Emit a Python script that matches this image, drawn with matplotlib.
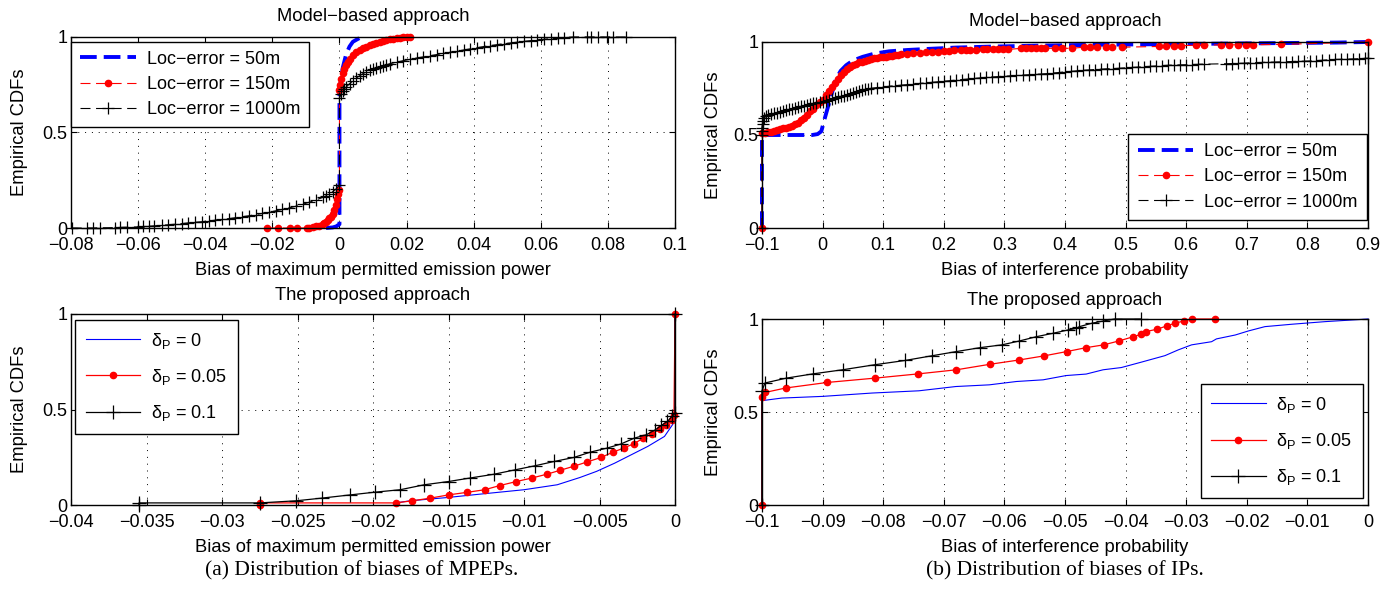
import numpy as np
import matplotlib
matplotlib.use("Agg")
import matplotlib.pyplot as plt
from matplotlib.ticker import FuncFormatter

plt.rcParams['font.family'] = ['Liberation Sans', 'DejaVu Sans']
plt.rcParams['mathtext.fontset'] = 'custom'
plt.rcParams['mathtext.rm'] = 'Liberation Sans'
plt.rcParams['mathtext.it'] = 'Liberation Sans:italic'

# ---------------- (a) top: model-based MPEP bias ----------------
mpep_50_x = [-0.004, -0.002, -0.001, 0.0, 0.0, 0.0005, 0.001, 0.002, 0.003, 0.004, 0.0055, 0.0066]
mpep_50_y = [0.0, 0.003, 0.008, 0.02, 0.72, 0.78, 0.84, 0.91, 0.95, 0.975, 0.99, 1.0]

mpep_150_x = [-0.0215, -0.0182, -0.0148, -0.0126, -0.0098, -0.009, -0.008, -0.007, -0.006, -0.005,
              -0.0045, -0.004, -0.0035, -0.003, -0.0025, -0.002, -0.0015, -0.001, -0.0006, -0.0003,
              0.0, 0.0, 0.0003, 0.0006, 0.001, 0.0015, 0.002, 0.0025, 0.003, 0.004,
              0.005, 0.006, 0.007, 0.008, 0.009, 0.010, 0.011, 0.012, 0.013, 0.014,
              0.015, 0.016, 0.017, 0.018, 0.019, 0.020, 0.021]
mpep_150_y = [0.0, 0.0, 0.0, 0.0, 0.0, 0.002, 0.004, 0.008, 0.013, 0.02,
              0.025, 0.032, 0.04, 0.05, 0.06, 0.075, 0.095, 0.12, 0.15, 0.18,
              0.2, 0.72, 0.75, 0.78, 0.81, 0.835, 0.855, 0.87, 0.885, 0.905,
              0.92, 0.93, 0.94, 0.95, 0.958, 0.965, 0.971, 0.976, 0.981, 0.985,
              0.989, 0.992, 0.995, 0.997, 0.999, 1.0, 1.0]

mpep_1000_x = [-0.0798, -0.0753, -0.0733, -0.0713, -0.0669, -0.0654, -0.0634, -0.0599, -0.0584, -0.0569,
               -0.0554, -0.053, -0.051, -0.049, -0.047, -0.045, -0.043, -0.041, -0.039, -0.037,
               -0.035, -0.033, -0.031, -0.029, -0.027, -0.025, -0.023, -0.021, -0.019, -0.017,
               -0.015, -0.013, -0.011, -0.009, -0.007, -0.005, -0.004, -0.003, -0.002, -0.001,
               0.0,
               0.0, 0.0005, 0.001, 0.0015, 0.002, 0.003, 0.004, 0.005, 0.006, 0.007,
               0.008, 0.009, 0.010, 0.011, 0.012, 0.013, 0.014, 0.015, 0.017, 0.019,
               0.021, 0.023, 0.025, 0.027, 0.029, 0.031, 0.033, 0.035, 0.037, 0.039,
               0.041, 0.043, 0.045, 0.047, 0.049, 0.051, 0.053, 0.055, 0.057, 0.059,
               0.061, 0.063, 0.065, 0.067, 0.0696, 0.0737, 0.0751, 0.0771, 0.0796, 0.0816,
               0.0853]
mpep_1000_y = [0.0, 0.0, 0.0, 0.001, 0.002, 0.003, 0.004, 0.006, 0.008, 0.009,
               0.011, 0.014, 0.017, 0.02, 0.023, 0.027, 0.03, 0.033, 0.037, 0.041,
               0.045, 0.049, 0.054, 0.059, 0.064, 0.07, 0.076, 0.083, 0.09, 0.097,
               0.105, 0.114, 0.124, 0.135, 0.147, 0.16, 0.168, 0.177, 0.19, 0.205,
               0.225,
               0.68, 0.7, 0.715, 0.727, 0.738, 0.755, 0.77, 0.785, 0.797, 0.808,
               0.818, 0.826, 0.833, 0.839, 0.845, 0.85, 0.855, 0.86, 0.868, 0.876,
               0.883, 0.89, 0.896, 0.902, 0.908, 0.914, 0.92, 0.926, 0.932, 0.938,
               0.944, 0.95, 0.955, 0.96, 0.965, 0.969, 0.973, 0.977, 0.981, 0.985,
               0.988, 0.991, 0.994, 0.997, 1.0, 1.0, 1.0, 1.0, 1.0, 1.0,
               1.0]

# ---------------- (b) top: model-based IP bias ----------------
ip_50_x = [-0.1, -0.1, -0.05, -0.017, -0.008, -0.002, 0.002, 0.008, 0.015, 0.022,
           0.03, 0.039, 0.05, 0.066, 0.085, 0.11, 0.14, 0.175, 0.22, 0.275,
           0.35, 0.45, 0.55, 0.65, 0.75, 0.85, 0.9]
ip_50_y = [0.0, 0.5, 0.5, 0.5, 0.505, 0.52, 0.57, 0.64, 0.72, 0.80,
           0.845, 0.875, 0.9, 0.92, 0.937, 0.95, 0.957, 0.963, 0.97, 0.975,
           0.98, 0.985, 0.988, 0.991, 0.994, 0.997, 1.0]

ip_150_x = [-0.1, -0.1, -0.095, -0.09, -0.085, -0.08, -0.075, -0.07, -0.065, -0.06,
            -0.055, -0.05, -0.045, -0.04, -0.035, -0.03, -0.025, -0.02, -0.015, -0.01,
            -0.005, 0.0, 0.005, 0.01, 0.015, 0.02, 0.025, 0.03, 0.035, 0.04,
            0.045, 0.05, 0.055, 0.06, 0.065, 0.07, 0.075, 0.08, 0.085, 0.09,
            0.095, 0.1, 0.105, 0.11, 0.115, 0.12, 0.125, 0.13, 0.14, 0.15,
            0.16, 0.17, 0.18, 0.19, 0.2, 0.208, 0.217, 0.228, 0.236, 0.244,
            0.253, 0.264, 0.272, 0.281, 0.289, 0.297, 0.306, 0.328, 0.336, 0.344,
            0.353, 0.361, 0.367, 0.383, 0.395, 0.411, 0.431, 0.442, 0.453, 0.467,
            0.478, 0.494, 0.555, 0.566, 0.58, 0.591, 0.616, 0.63, 0.657, 0.671,
            0.685, 0.699, 0.71, 0.757, 0.9]
ip_150_y = [0.0, 0.51, 0.512, 0.515, 0.517, 0.52, 0.525, 0.53, 0.535, 0.54,
            0.545, 0.55, 0.557, 0.565, 0.578, 0.593, 0.61, 0.627, 0.642, 0.66,
            0.675, 0.69, 0.715, 0.738, 0.76, 0.78, 0.8, 0.82, 0.84, 0.855,
            0.866, 0.875, 0.882, 0.89, 0.895, 0.9, 0.904, 0.908, 0.912, 0.915,
            0.918, 0.92, 0.922, 0.925, 0.927, 0.929, 0.931, 0.933, 0.936, 0.939,
            0.942, 0.944, 0.946, 0.948, 0.95, 0.952, 0.955, 0.957, 0.958, 0.958,
            0.958, 0.96, 0.96, 0.96, 0.96, 0.96, 0.96, 0.966, 0.966, 0.966,
            0.966, 0.966, 0.966, 0.966, 0.966, 0.966, 0.972, 0.972, 0.972, 0.972,
            0.972, 0.972, 0.976, 0.976, 0.98, 0.98, 0.983, 0.983, 0.985, 0.985,
            0.985, 0.985, 0.985, 0.987, 1.0]

ip_1000_x = [-0.1, -0.1, -0.1, -0.1, -0.099, -0.098, -0.096, -0.094, -0.09, -0.085,
             -0.08, -0.075, -0.07, -0.065, -0.06, -0.055, -0.05, -0.045, -0.04, -0.035,
             -0.03, -0.025, -0.02, -0.015, -0.01, -0.005, 0.0, 0.005, 0.01, 0.015,
             0.02, 0.025, 0.03, 0.035, 0.04, 0.045, 0.05, 0.055, 0.06, 0.065,
             0.07, 0.075, 0.08, 0.09, 0.1, 0.11, 0.12, 0.13, 0.14, 0.15,
             0.16, 0.17, 0.18, 0.19, 0.2, 0.21, 0.22, 0.23, 0.24, 0.25,
             0.26, 0.27, 0.28, 0.29, 0.3, 0.31, 0.32, 0.33, 0.34, 0.35,
             0.36, 0.37, 0.38, 0.39, 0.4, 0.41, 0.42, 0.43, 0.44, 0.45,
             0.46, 0.47, 0.48, 0.49, 0.5, 0.51, 0.52, 0.53, 0.54, 0.55,
             0.56, 0.57, 0.58, 0.59, 0.6, 0.61, 0.62, 0.63, 0.665, 0.675,
             0.685, 0.695, 0.705, 0.715, 0.725, 0.735, 0.745, 0.755, 0.765, 0.775,
             0.785, 0.795, 0.805, 0.815, 0.825, 0.835, 0.845, 0.855, 0.865, 0.875,
             0.885, 0.895, 0.9]
ip_1000_y = [0.0, 0.5, 0.52, 0.54, 0.56, 0.575, 0.59, 0.6, 0.607, 0.612,
             0.616, 0.62, 0.625, 0.63, 0.634, 0.638, 0.642, 0.646, 0.65, 0.654,
             0.658, 0.662, 0.666, 0.67, 0.673, 0.677, 0.68, 0.685, 0.69, 0.694,
             0.698, 0.702, 0.707, 0.712, 0.717, 0.722, 0.728, 0.733, 0.737, 0.741,
             0.745, 0.748, 0.751, 0.755, 0.758, 0.762, 0.765, 0.768, 0.771, 0.774,
             0.777, 0.78, 0.783, 0.786, 0.789, 0.792, 0.795, 0.798, 0.801, 0.804,
             0.807, 0.81, 0.812, 0.814, 0.816, 0.818, 0.82, 0.822, 0.824, 0.826,
             0.828, 0.83, 0.833, 0.836, 0.839, 0.842, 0.845, 0.848, 0.85, 0.852,
             0.854, 0.856, 0.857, 0.859, 0.861, 0.863, 0.865, 0.867, 0.869, 0.871,
             0.873, 0.875, 0.876, 0.877, 0.878, 0.879, 0.88, 0.881, 0.883, 0.884,
             0.885, 0.886, 0.888, 0.889, 0.89, 0.891, 0.892, 0.893, 0.894, 0.895,
             0.896, 0.897, 0.898, 0.9, 0.902, 0.904, 0.906, 0.907, 0.908, 0.909,
             0.91, 0.912, 0.913]

# ---------------- (a) bottom: proposed MPEP bias ----------------
pmpep_d0_x = [-0.0185, -0.01755, -0.0151, -0.0129, -0.01, -0.0078, -0.0063, -0.0052, -0.004, -0.0029,
              -0.0018, -0.0007, -0.00017, 0.0, 0.0]
pmpep_d0_y = [0.011, 0.022, 0.039, 0.057, 0.08, 0.106, 0.144, 0.176, 0.219, 0.263,
              0.307, 0.359, 0.42, 0.45, 1.0]

pmpep_d05_x = [-0.0275, -0.0275, -0.0185, -0.0174, -0.0162, -0.015, -0.0138, -0.0126, -0.0116, -0.0105,
               -0.0095, -0.0085, -0.0076, -0.0067, -0.0058, -0.0049, -0.0041, -0.0034, -0.0027, -0.0021,
               -0.0015, -0.001, -0.0006, -0.0002, -0.00007, 0.0]
pmpep_d05_y = [0.0, 0.011, 0.011, 0.022, 0.036, 0.053, 0.066, 0.08, 0.102, 0.123,
               0.141, 0.161, 0.182, 0.203, 0.226, 0.249, 0.277, 0.298, 0.322, 0.35,
               0.373, 0.397, 0.42, 0.446, 0.473, 1.0]

pmpep_d1_x = [-0.0355, -0.0355, -0.0275, -0.0251, -0.0234, -0.0215, -0.0199, -0.0182, -0.0166, -0.015,
              -0.0136, -0.012, -0.0106, -0.0093, -0.008, -0.0067, -0.0056, -0.0045, -0.0036, -0.0027,
              -0.0019, -0.0013, -0.0009, -0.0005, -0.0002, 0.0, 0.0]
pmpep_d1_y = [0.0, 0.011, 0.011, 0.022, 0.036, 0.053, 0.067, 0.08, 0.106, 0.123,
              0.141, 0.161, 0.184, 0.205, 0.228, 0.249, 0.277, 0.298, 0.319, 0.35,
              0.368, 0.394, 0.417, 0.438, 0.464, 0.48, 1.0]

# ---------------- (b) bottom: proposed IP bias ----------------
pip_d0_x = [-0.1, -0.1, -0.0967, -0.09, -0.0818, -0.0741, -0.068, -0.0625, -0.058, -0.0536,
            -0.0498, -0.0465, -0.0437, -0.0407, -0.0374, -0.0335, -0.0313, -0.0291, -0.0258, -0.025,
            -0.0219, -0.0197, -0.017, -0.0125, -0.007, 0.0]
pip_d0_y = [0.0, 0.561, 0.575, 0.584, 0.602, 0.614, 0.637, 0.646, 0.664, 0.673,
            0.696, 0.704, 0.727, 0.739, 0.768, 0.803, 0.834, 0.861, 0.878, 0.893,
            0.914, 0.936, 0.959, 0.972, 0.986, 1.0]

pip_d05_x = [-0.1, -0.1, -0.0995, -0.0961, -0.0892, -0.0814, -0.0742, -0.0679, -0.0623, -0.0575,
             -0.0534, -0.0497, -0.0465, -0.0436, -0.0411, -0.0387, -0.0374, -0.0367, -0.0348, -0.0331,
             -0.0319, -0.0304, -0.0291, -0.0253]
pip_d05_y = [0.0, 0.58, 0.605, 0.629, 0.659, 0.682, 0.705, 0.727, 0.757, 0.78,
             0.802, 0.825, 0.846, 0.861, 0.882, 0.905, 0.918, 0.932, 0.945, 0.964,
             0.977, 0.989, 1.0, 1.0]

pip_d1_x = [-0.1, -0.1, -0.0995, -0.096, -0.0916, -0.0867, -0.0814, -0.0764, -0.072, -0.0679,
            -0.064, -0.0604, -0.0575, -0.0547, -0.052, -0.0495, -0.0481, -0.0476, -0.0456, -0.0437,
            -0.0418, -0.0374]
pip_d1_y = [0.0, 0.614, 0.656, 0.682, 0.705, 0.727, 0.754, 0.777, 0.802, 0.825,
            0.846, 0.861, 0.882, 0.905, 0.923, 0.941, 0.95, 0.959, 0.977, 0.989,
            1.0, 1.0]

model_labels = ['Loc\u2212error = 50m', 'Loc\u2212error = 150m', 'Loc\u2212error = 1000m']
delta_labels = [r'δ$_\mathrm{P}$ = 0', r'δ$_\mathrm{P}$ = 0.05', r'δ$_\mathrm{P}$ = 0.1']


def matlab_fmt(v, pos):
    if abs(v) < 1e-12:
        return '0'
    return f'{v:g}'.replace('-', '\u2212')


def style_axes(ax, xlim, xticks, title, xlabel, title_pad, ylabel_pad):
    ax.set_xlim(*xlim)
    ax.set_ylim(0, 1)
    ax.set_xticks(xticks)
    ax.set_yticks([0, 0.5, 1])
    ax.xaxis.set_major_formatter(FuncFormatter(matlab_fmt))
    ax.yaxis.set_major_formatter(FuncFormatter(matlab_fmt))
    ax.tick_params(direction='in', length=4, width=0.8, top=True, right=True,
                   labelsize=13, colors='black')
    ax.tick_params(axis='x', pad=6.5)
    ax.tick_params(axis='y', pad=2.5)
    ax.grid(True, color='black', linestyle=(0, (1, 6)), linewidth=0.7)
    for sp in ax.spines.values():
        sp.set_linewidth(1.0)
    ax.set_title(title, fontsize=13.2, pad=title_pad)
    ax.set_xlabel(xlabel, fontsize=13.2, labelpad=5.5)
    ax.set_ylabel('Empirical CDFs', fontsize=13.2, labelpad=ylabel_pad)


fig = plt.figure(figsize=(13.95, 5.89), dpi=100)
ax1 = fig.add_axes([0.0509, 0.6129, 0.4330, 0.3243])
ax2 = fig.add_axes([0.5462, 0.6129, 0.4344, 0.3158])
ax3 = fig.add_axes([0.0509, 0.1426, 0.4330, 0.3243])
ax4 = fig.add_axes([0.5462, 0.1426, 0.4344, 0.3158])

blue_kw = dict(color='#0000ff', lw=2.8, dashes=(4.3, 1.8), clip_on=False)
red_kw = dict(color='#ff0000', lw=0.8, dashes=(9, 5), marker='o', ms=4.5, mec='#ff0000', mfc='#ff0000',
              clip_on=False)
black_kw = dict(color='black', lw=0.8, dashes=(9, 5), marker='+', ms=8, mew=0.9, clip_on=False)

leg_kw = dict(fontsize=13, frameon=True, fancybox=False, framealpha=1, edgecolor='black',
              handlelength=3.1, numpoints=1, borderaxespad=0, handletextpad=0.6,
              labelspacing=0.45, borderpad=0.5)

# top-left
ax1.plot(mpep_50_x, mpep_50_y, label=model_labels[0], **blue_kw)
ax1.plot(mpep_150_x, mpep_150_y, label=model_labels[1], **red_kw)
ax1.plot(mpep_1000_x, mpep_1000_y, label=model_labels[2], **black_kw)
style_axes(ax1, (-0.08, 0.1), np.round(np.arange(-0.08, 0.1001, 0.02), 2),
           'Model\u2212based approach', 'Bias of maximum permitted emission power', 11.5, 10.5)
lg = ax1.legend(loc='upper left', bbox_to_anchor=(0.0, 0.975), **leg_kw)
lg.get_frame().set_linewidth(1.0)

# top-right
ax2.plot(ip_50_x, ip_50_y, label=model_labels[0], **blue_kw)
ax2.plot(ip_150_x, ip_150_y, label=model_labels[1], **red_kw)
ax2.plot(ip_1000_x, ip_1000_y, label=model_labels[2], **black_kw)
style_axes(ax2, (-0.1, 0.9), np.round(np.arange(-0.1, 0.9001, 0.1), 1),
           'Model\u2212based approach', 'Bias of interference probability', 11.5, 8)
lg = ax2.legend(loc='lower right', bbox_to_anchor=(0.998, 0.045), **leg_kw)
lg.get_frame().set_linewidth(1.0)

# bottom panels
d0_kw = dict(color='#0000ff', lw=0.8, clip_on=False)
d05_kw = dict(color='#ff0000', lw=0.9, marker='o', ms=4.5, mec='#ff0000', mfc='#ff0000', clip_on=False)
d1_kw = dict(color='black', lw=0.9, marker='+', ms=10, mew=0.9, clip_on=False)

leg2_kw = dict(leg_kw)
leg2_kw.update(labelspacing=0.9, borderpad=0.6, handlelength=3.0)

ax3.plot(pmpep_d0_x, pmpep_d0_y, label=delta_labels[0], **d0_kw)
ax3.plot(pmpep_d05_x, pmpep_d05_y, label=delta_labels[1], **d05_kw)
ax3.plot(pmpep_d1_x, pmpep_d1_y, label=delta_labels[2], **d1_kw)
style_axes(ax3, (-0.04, 0), np.round(np.arange(-0.04, 0.0001, 0.005), 3),
           'The proposed approach', 'Bias of maximum permitted emission power', 10, 10.5)
lg = ax3.legend(loc='upper left', bbox_to_anchor=(0.007, 0.97), **leg2_kw)
lg.get_frame().set_linewidth(1.0)

ax4.plot(pip_d0_x, pip_d0_y, label=delta_labels[0], **d0_kw)
ax4.plot(pip_d05_x, pip_d05_y, label=delta_labels[1], **d05_kw)
ax4.plot(pip_d1_x, pip_d1_y, label=delta_labels[2], **d1_kw)
style_axes(ax4, (-0.1, 0), np.round(np.arange(-0.1, 0.0001, 0.01), 2),
           'The proposed approach', 'Bias of interference probability', 10, 8)
lg = ax4.legend(loc='lower right', bbox_to_anchor=(0.992, 0.038), **leg2_kw)
lg.get_frame().set_linewidth(1.0)

fig.text(362 / 1395, 1 - 571 / 589, '(a) Distribution of biases of MPEPs.',
         family='Liberation Serif', fontsize=15.5, ha='center', va='center')
fig.text(1065 / 1395, 1 - 571 / 589, '(b) Distribution of biases of IPs.',
         family='Liberation Serif', fontsize=15.5, ha='center', va='center')

fig.savefig('out.png', dpi=100)
